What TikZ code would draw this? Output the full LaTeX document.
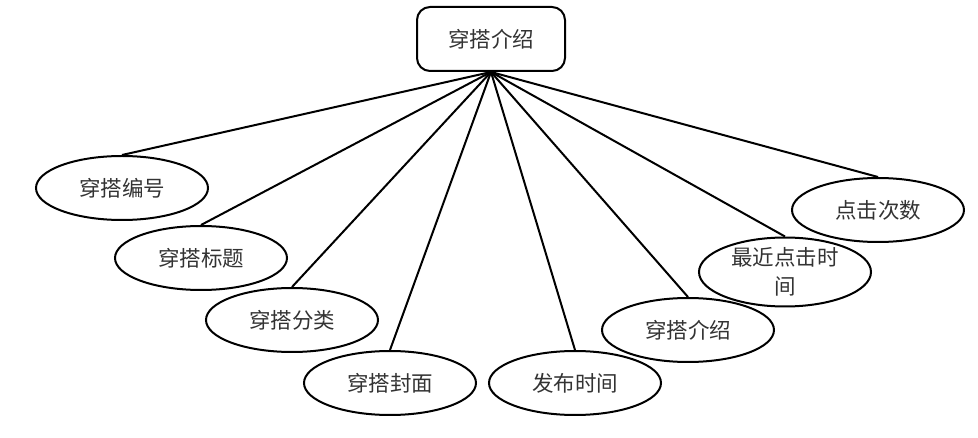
\documentclass[tikz,border=0pt]{standalone}
\usepackage{fontspec}
\newfontfamily\cjk{Noto Sans CJK SC}
\usetikzlibrary{shapes.geometric}

\begin{document}
\begin{tikzpicture}[x=1pt,y=-1pt,line width=2pt,
                    font=\cjk\fontsize{21.5}{29}\selectfont,text=black!80,
                    entity/.style={draw,rounded corners=13pt,minimum width=148pt,minimum height=64pt,inner sep=0pt},
                    attr/.style={draw,ellipse,minimum width=172pt,minimum height=64pt,inner sep=0pt,align=center}]
        \useasboundingbox (0,0) rectangle (978,438);

        \node[entity] (jsh) at (491,39) {穿搭介绍};
        \node[attr] (bh) at (122,188) {穿搭编号};
        \node[attr] (bt) at (201,258) {穿搭标题};
        \node[attr] (fl) at (292,320) {穿搭分类};
        \node[attr] (fm) at (390,383) {穿搭封面};
        \node[attr] (sj) at (575,383) {发布时间};
        \node[attr] (js) at (688,330) {穿搭介绍};
        \node[attr] (zj) at (785,272) {最近点击时\\间};
        \node[attr] (cs) at (878,210) {点击次数};

        \path (jsh.south) edge (bh.north)
                          edge (bt.north)
                          edge (fl.north)
                          edge (fm.north)
                          edge (sj.north)
                          edge (js.north)
                          edge (zj.north)
                          edge (cs.north);
\end{tikzpicture}
\end{document}
